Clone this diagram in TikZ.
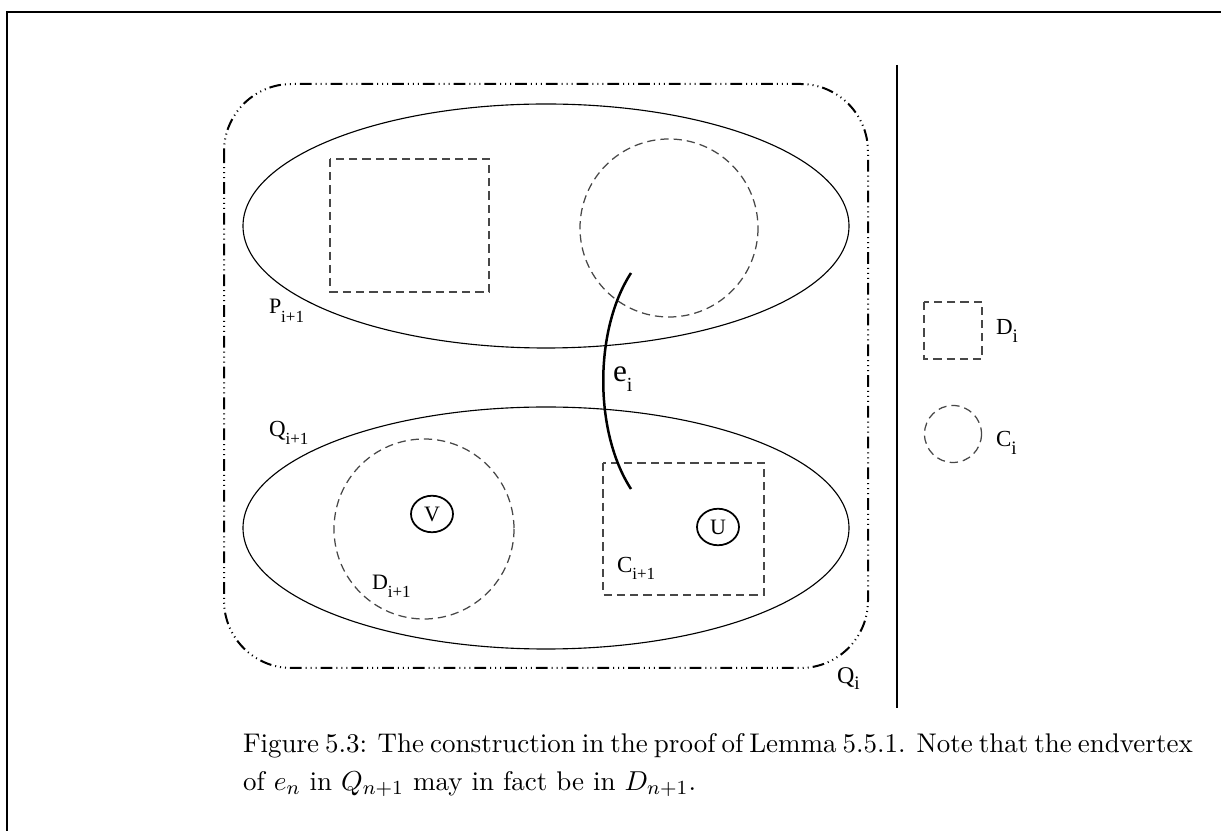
\documentclass[tikz,border=0pt]{standalone}
\usepackage{fontspec}
\newfontfamily\tms{Liberation Serif}
\usetikzlibrary{shapes.geometric}
\tikzset{
  plain/.style={draw=black, line width=0.45pt},
  dashbox/.style={draw=black!72, line width=0.5pt, dash pattern=on 3.3pt off 2pt},
  qdash/.style={draw=black, line width=0.8pt, dash pattern=on 4.7pt off 1.6pt on 0.4pt off 1.6pt on 0.4pt off 1.6pt on 0.4pt off 1.6pt},
  vertex/.style={draw=black, line width=0.7pt, ellipse, inner sep=0pt, minimum width=16.8pt, minimum height=14.6pt, font=\tms\fontsize{8.8}{9}\selectfont},
  lab/.style={anchor=base west, inner sep=0pt, outer sep=0pt},
}
\newcommand{\lbl}[5]{{\tms\fontsize{#3}{#3}\selectfont #1\raisebox{-#5}{\fontsize{#4}{#4}\selectfont #2}}}
\begin{document}
\begin{tikzpicture}[x=0.4pt,y=-0.4pt]
\useasboundingbox (0,0) rectangle (1221,831);
% frame
\coordinate (fA) at (7,831);
\coordinate (fB) at (7,12);
\coordinate (fC) at (1221,12);
\draw[line width=0.7pt] (fA) -- (fB) -- (fC);
% Q_i rounded box
\draw[qdash, rounded corners=27pt] (224,84) rectangle (868,668);
% separator
\coordinate (vT) at (897,65);
\coordinate (vB) at (897,708);
\draw[plain] (vT) -- (vB);
% ellipses
\draw[plain] (546,226) ellipse [x radius=303, y radius=122];
\draw[plain] (546,528) ellipse [x radius=303, y radius=121];
% upper parts
\draw[dashbox] (330,159) rectangle (489,292);
\draw[dashbox] (669,228) circle [radius=89];
% lower parts
\draw[dashbox] (424,529) circle [radius=90];
\draw[dashbox] (603,463) rectangle (764,595);
\node[vertex] (V) at (432,514) {V};
\node[vertex] (U) at (718,527) {U};
% edge e_i
\coordinate (ea) at (631,273);
\coordinate (eb) at (631,489);
\draw[line width=1pt] (ea) .. controls (594,330) and (594,432) .. (eb);
% legend
\draw[dashbox] (924,302) rectangle (982,359);
\draw[dashbox] (953,434) circle [radius=28.5];
% labels
\node[lab] (Pl) at (269,314) {\lbl{P}{i+1}{8.8}{6.8}{3.6pt}};
\node[lab] (Ql) at (269,437) {\lbl{Q}{i+1}{9.2}{6.8}{3.2pt}};
\node[lab] (Dl) at (372,590) {\lbl{D}{i+1}{8.8}{6.8}{3.2pt}};
\node[lab] (Cl) at (617,573) {\lbl{C}{i+1}{9.2}{6.8}{2.6pt}};
\node[lab] (el) at (613,382) {\lbl{e}{i}{12.5}{8}{4pt}};
\node[lab] (Qil) at (837,684) {\lbl{Q}{i}{9.6}{7.6}{2.4pt}};
\node[lab] (Dil) at (996,335) {\lbl{D}{i}{9.2}{7.6}{3.2pt}};
\node[lab] (Cil) at (996,447) {\lbl{C}{i}{9.2}{7.6}{3pt}};
% caption
\node[lab] (cap1) at (243,753) {\fontsize{10.8}{14.8}\selectfont\hbox to 370pt{Figure 5.3: The construction in the proof of Lemma 5.5.1. Note that the endvertex}};
\node[lab] (cap2) at (243,790) {\fontsize{10.8}{14.8}\selectfont of $e_n$ in $Q_{n+1}$ may in fact be in $D_{n+1}$.};
\end{tikzpicture}
\end{document}
